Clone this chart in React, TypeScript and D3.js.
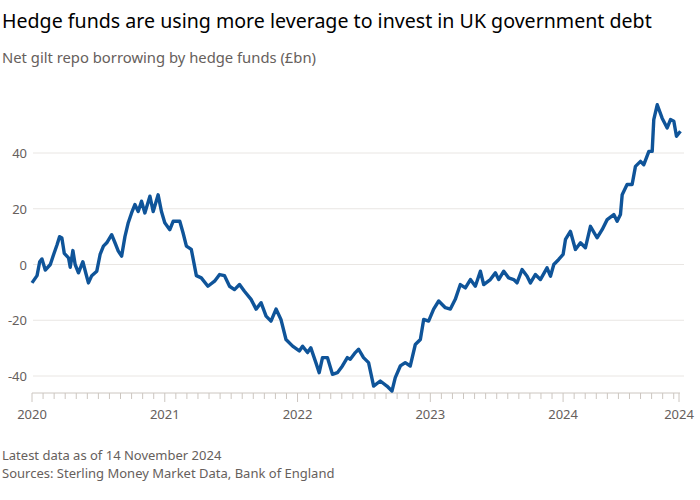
import * as d3 from "d3"

// decimal years and £bn values
const years = [
  2020.0, 2020.038, 2020.058, 2020.075, 2020.1, 2020.138, 2020.163, 2020.188, 2020.208, 2020.225,
  2020.243, 2020.275, 2020.288, 2020.308, 2020.325, 2020.35, 2020.383, 2020.408, 2020.425, 2020.45,
  2020.488, 2020.513, 2020.538, 2020.563, 2020.6, 2020.625, 2020.65, 2020.675, 2020.7, 2020.725,
  2020.75, 2020.775, 2020.8, 2020.825, 2020.85, 2020.888, 2020.913, 2020.95, 2020.975, 2021.0,
  2021.038, 2021.063, 2021.113, 2021.138, 2021.163, 2021.2, 2021.238, 2021.275, 2021.325, 2021.375,
  2021.413, 2021.45, 2021.488, 2021.525, 2021.563, 2021.6, 2021.65, 2021.688, 2021.725, 2021.763,
  2021.8, 2021.838, 2021.875, 2021.913, 2021.963, 2022.013, 2022.038, 2022.075, 2022.1, 2022.138,
  2022.163, 2022.188, 2022.225, 2022.263, 2022.3, 2022.338, 2022.375, 2022.397,
  2022.435, 2022.46, 2022.497, 2022.535, 2022.573, 2022.623, 2022.673, 2022.711, 2022.736, 2022.774,
  2022.811, 2022.849, 2022.887, 2022.925, 2022.95, 2022.987, 2023.025, 2023.063, 2023.113, 2023.151,
  2023.188, 2023.226, 2023.264, 2023.302, 2023.339, 2023.377, 2023.402, 2023.452, 2023.49, 2023.515,
  2023.553, 2023.59, 2023.628, 2023.653, 2023.691, 2023.729, 2023.754, 2023.791, 2023.829, 2023.879,
  2023.905, 2023.93, 2023.967, 2024.0, 2024.018, 2024.055, 2024.093, 2024.131, 2024.168, 2024.206,
  2024.256, 2024.294, 2024.332, 2024.382, 2024.407, 2024.432, 2024.445, 2024.482, 2024.52, 2024.545,
  2024.583, 2024.608, 2024.646, 2024.671, 2024.683, 2024.709, 2024.746, 2024.784, 2024.809, 2024.834,
  2024.854, 2024.884,
]
const values = [
  -6.6, -4, 1, 2, -2, 0, 3.6, 7, 10, 9.5,
  4, 2.4, -1, 5, 0, -3, 1, -3.6, -6.6, -4,
  -2.4, 3.6, 6.6, 7.8, 10.7, 7.8, 4.8, 3, 10, 15,
  18.5, 21.5, 19, 22.7, 18.5, 24.5, 19, 25, 19, 15,
  12.5, 15.5, 15.5, 11.3, 6.6, 5.4, -4, -4.8, -7.8, -6,
  -3.6, -4, -7.8, -9, -7.2, -9.6, -12.5, -16, -13.7, -18.5,
  -20.3, -16, -19.7, -26.9, -29.3, -31, -29.3, -31.6, -29.9, -35.2,
  -38.8, -33.4, -33.4, -39.4, -38.8, -36.4, -33.4, -34,
  -31.6, -30.4, -33.4, -35.2, -43.6, -41.8, -43.6, -45.4, -40.6, -36.4,
  -35.2, -36.4, -28.7, -26.9, -19.7, -20.3, -16, -13.1, -15.5, -16,
  -12.5, -7.2, -8.4, -5.4, -7.8, -2.4, -7.2, -5.4, -3, -5.4,
  -2.4, -4.8, -5.4, -6.6, -1.8, -4.2, -6.6, -3.6, -5.4, -1.2,
  -4.2, 0, 1.8, 3.6, 9, 11.9, 5.4, 7.8, 6, 13.7,
  9.6, 12.5, 16.1, 17.9, 15.5, 17.9, 25, 28.7, 28.7, 35.2,
  37, 35.8, 40.6, 40.6, 52, 57.3, 52.5, 49, 52, 51.4,
  46, 47.8,
]
const yTicks = [40, 20, 0, -20, -40]
const xTickYears = [2020, 2021, 2022, 2023, 2024]
const endYear = 2024.873
const xLabels = ["2020", "2021", "2022", "2023", "2024", "2024"]

const title = "Hedge funds are using more leverage to invest in UK government debt"
const subtitle = "Net gilt repo borrowing by hedge funds (£bn)"
const notes = ["Latest data as of 14 November 2024", "Sources: Sterling Money Market Data, Bank of England"]

const font = "'Noto Sans', 'Open Sans', sans-serif"

export default function App() {
  const x = d3.scaleLinear().domain([2020, endYear]).range([32, 679])
  const y = d3.scaleLinear().domain([-40, 40]).range([376, 153])
  const line = d3
    .line<number>()
    .x((_, i) => x(years[i]))
    .y((d) => y(d))
    .curve(d3.curveLinear)

  const months = d3.range(0, Math.floor((endYear - 2020) * 12) + 1).map((m) => 2020 + m / 12)
  const labelPos = [...xTickYears, endYear]

  return (
    <svg
      width={700}
      height={500}
      style={{ position: "absolute", left: 0, top: 0, background: "#fff", fontFamily: font }}
    >
      <text x={2} y={28} fontSize={19.6} fill="#000">{title}</text>
      <text x={2} y={63} fontSize={14.8} fill="#66605c">{subtitle}</text>

      {yTicks.map((t) => (
        <g key={t}>
          <line x1={33} x2={684} y1={y(t)} y2={y(t)} stroke="#e9e6e3" />
          <text x={27} y={y(t) + 5} fontSize={13} fill="#66605c" textAnchor="end">{t}</text>
        </g>
      ))}

      <line x1={32} x2={680} y1={393} y2={393} stroke="#ccc6c0" />
      {months.map((m, i) => (
        <line key={i} x1={x(m)} x2={x(m)} y1={393} y2={i % 12 === 0 ? 402 : 399} stroke="#ccc6c0" />
      ))}
      <line x1={x(endYear)} x2={x(endYear)} y1={393} y2={402} stroke="#ccc6c0" />
      {labelPos.map((p, i) => (
        <text key={i} x={x(p)} y={419} fontSize={13} fill="#66605c" textAnchor="middle">{xLabels[i]}</text>
      ))}

      <path d={line(values) || ""} fill="none" stroke="#0f5499" strokeWidth={3.4} strokeLinejoin="round" />

      {notes.map((n, i) => (
        <text key={i} x={2} y={460 + i * 18} fontSize={13} fill="#66605c">{n}</text>
      ))}
    </svg>
  )
}
